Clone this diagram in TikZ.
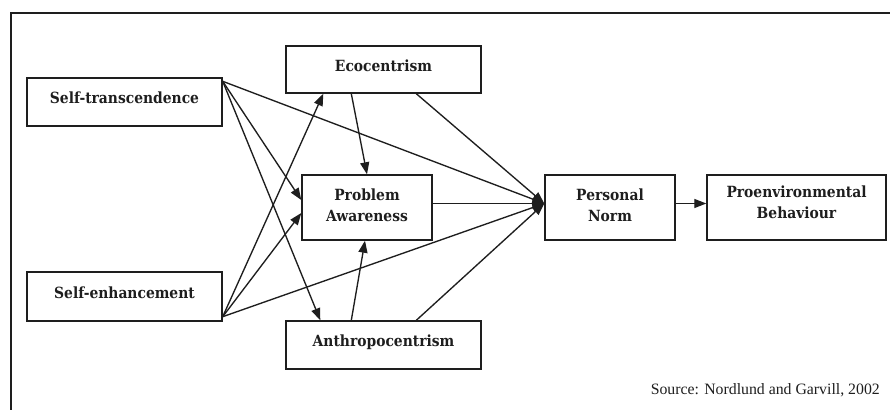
\documentclass[tikz,border=0pt]{standalone}
\usepackage{fontspec}
\usetikzlibrary{arrows.meta}
\setmainfont{Liberation Serif}
\newfontfamily\boxfont[FakeStretch=0.9]{DejaVu Serif}
\definecolor{ink}{HTML}{1E1E1E}
\begin{document}
\begin{tikzpicture}[x=1pt,y=-1pt,
  box/.style={draw=ink, line width=1.4pt, fill=white, inner sep=0pt,
    align=center, font=\boxfont\bfseries\fontsize{15.4}{21}\selectfont, text=ink},
  onebox/.style={box, text depth=8pt},
  link/.style={draw=ink, line width=1.35pt, -{Triangle[length=12pt,width=9pt]}}]
  \useasboundingbox (0,0) rectangle (890,409);
  \fill[white] (0,0) rectangle (890,409);
  % open frame round the model
  \begin{scope}
    \clip (0,0) rectangle (890,409);
    \draw[ink, line width=1.4pt] (11,430) -- (11,13) -- (900,13);
  \end{scope}

  % value orientations
  \node[onebox, minimum width=195pt, minimum height=48pt] (st) at (124.5,102) {Self-transcendence};
  \node[onebox, minimum width=195pt, minimum height=49pt] (se) at (124.5,296.5) {Self-enhancement};
  % environmental attitudes
  \node[onebox, minimum width=195pt, minimum height=47pt] (eco) at (383.5,69.5) {Ecocentrism};
  \node[onebox, minimum width=195pt, minimum height=48pt] (an) at (383.5,345) {Anthropocentrism};
  % awareness, norm, behaviour
  \node[box, text depth=4pt, minimum width=130pt, minimum height=65pt] (pa) at (367,207.5) {Problem\\Awareness};
  \node[box, text depth=5pt, minimum width=130pt, minimum height=65pt] (pn) at (610,207.5) {Personal\\Norm};
  \node[box, text depth=10pt, minimum width=179pt, minimum height=65pt] (pb) at (796.5,207.5) {Proenvironmental\\Behaviour};

  % paths from self-transcendence
  \draw[link] ([yshift=-4pt]st.north east) -- ([yshift=4pt]pn.west);
  \draw[link] ([yshift=-4pt]st.north east) -- ([yshift=7.5pt]pa.west);
  \draw[link] ([yshift=-4pt]st.north east) -- ([xshift=35pt]an.north west);
  % paths from self-enhancement
  \draw[link] ([yshift=5pt]se.south east) -- ([xshift=38pt]eco.south west);
  \draw[link] ([yshift=5pt]se.south east) -- ([yshift=-5.5pt]pa.west);
  \draw[link] ([yshift=5pt]se.south east) -- ([yshift=4pt]pn.west);
  % paths from the attitudes
  \draw[link] ([xshift=66pt]eco.south west) -- (pa.north);
  \draw[link] ([xshift=131pt]eco.south west) -- ([yshift=4pt]pn.west);
  \draw[link] ([xshift=66pt]an.north west) -- ([xshift=-2pt]pa.south);
  \draw[link] ([xshift=131pt]an.north west) -- ([yshift=4pt]pn.west);
  % awareness to norm to behaviour
  \draw[link] ([yshift=4pt]pa.east) -- ([yshift=4pt]pn.west);
  \draw[link] ([yshift=4pt]pn.east) -- ([yshift=4pt]pb.west);

  \node[anchor=east, inner sep=0pt, font=\fontsize{15.8}{18}\selectfont, text=ink] (src) at (880,390) {Source: Nordlund and Garvill, 2002};
\end{tikzpicture}
\end{document}
